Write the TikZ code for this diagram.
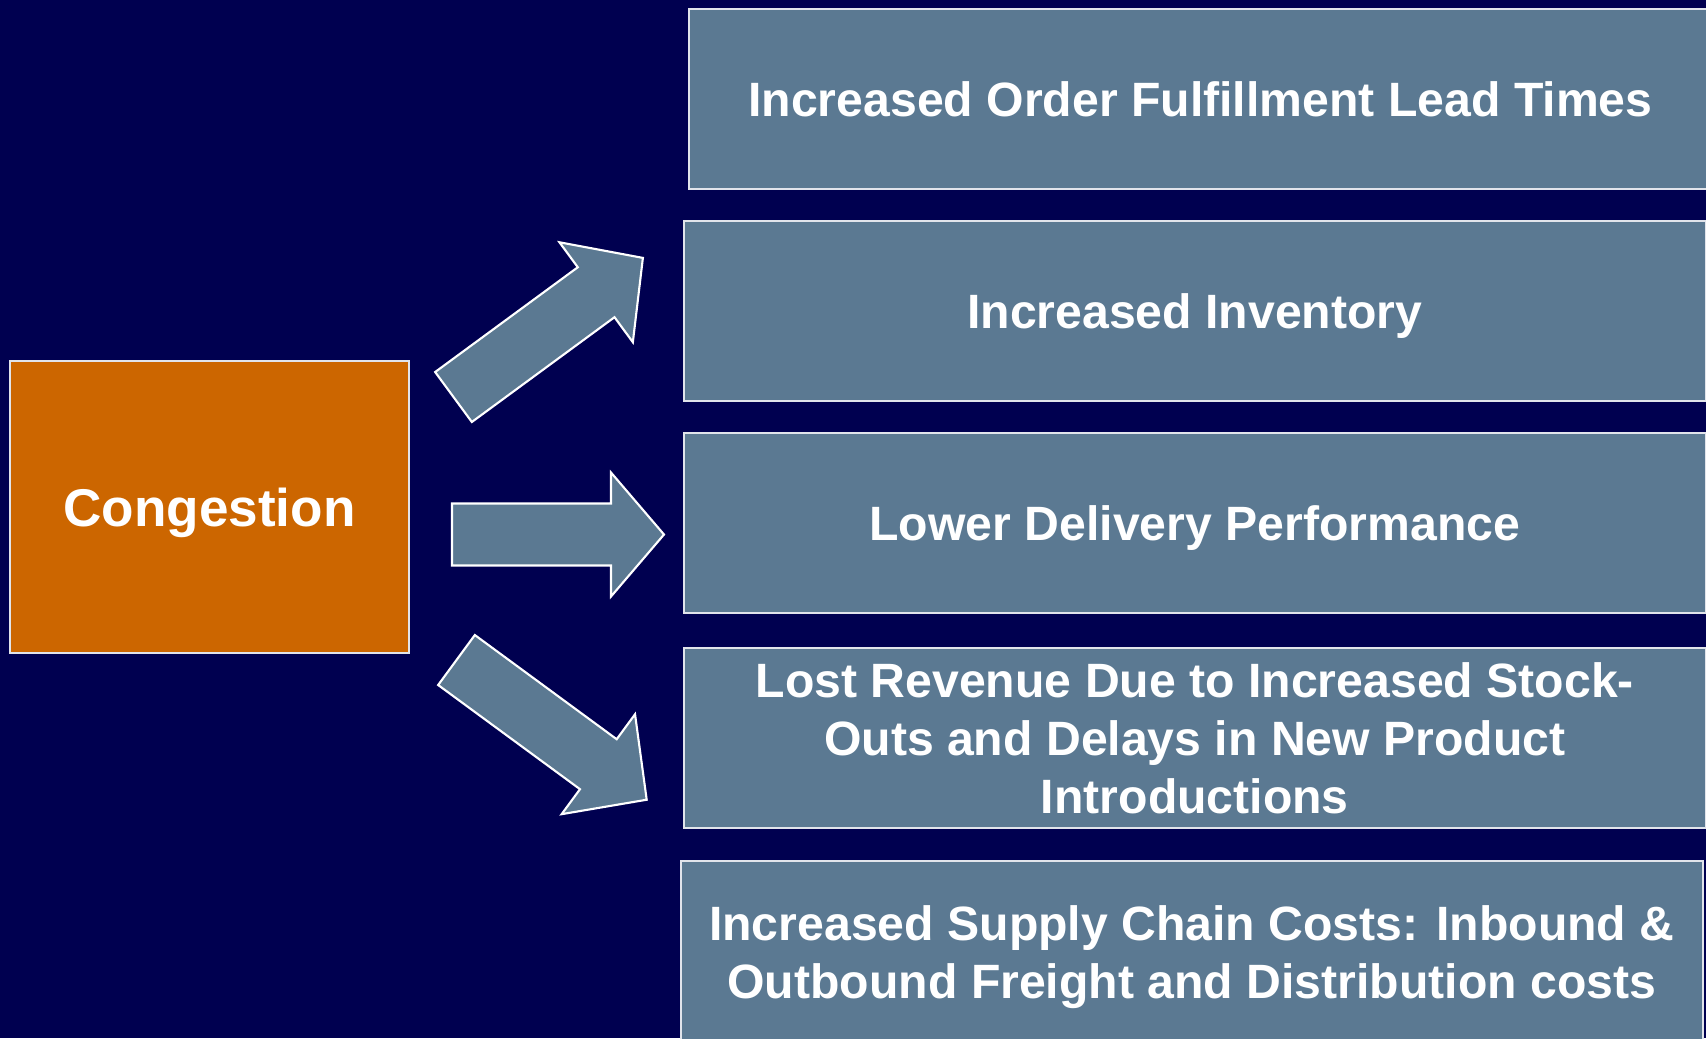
\documentclass[tikz,border=0pt]{standalone}
\usepackage{fontspec}
\setmainfont{Liberation Sans}
\usetikzlibrary{positioning}
\definecolor{slidebg}{RGB}{0,0,80}
\definecolor{effectcolor}{RGB}{91,121,146}
\definecolor{causecolor}{RGB}{204,102,0}
\definecolor{edgecolor}{RGB}{225,228,235}

\begin{document}
\begin{tikzpicture}[
  x=0.01cm, y=-0.01cm,
  every node/.style={align=center, text=white},
  causebox/.style={
    draw=edgecolor, line width=0.6pt, fill=causecolor,
    minimum width=3.99cm, minimum height=2.92cm, inner sep=0pt,
    text depth=0pt, font=\fontsize{15.1}{18}\selectfont\bfseries
  },
  effectbox/.style={
    draw=edgecolor, line width=0.6pt, fill=effectcolor,
    minimum width=10.21cm, minimum height=1.80cm, inner sep=0pt,
    text depth=0pt, anchor=north west,
    font=\fontsize{13.7}{16.4}\selectfont\bfseries
  },
  arrowbody/.style={draw=white, line width=0.6pt, fill=effectcolor},
  % block arrow along +x: #1 = total length, #2 = head length
  pics/blockarrow/.style 2 args={code={
    \draw[arrowbody] (0,-31) -- ({#1-#2},-31) -- ({#1-#2},-62) -- (#1,0)
      -- ({#1-#2},62) -- ({#1-#2},31) -- (0,31) -- cycle;
  }},
]

%% ─── Background ──────────────────────────────────────────────────────────────

\fill[slidebg] (0,0) rectangle (1706,1038);
\useasboundingbox (0,0) rectangle (1706,1038);

%% ─── Cause ───────────────────────────────────────────────────────────────────

\node[causebox] (congestion) at (209.5,507) {Congestion};

%% ─── Effects ─────────────────────────────────────────────────────────────────

\node[effectbox, minimum width=10.22cm] (leadtime)  at (688,8)   {Increased Order Fulfillment Lead Times};
\node[effectbox]                        (inventory) at (683,220) {Increased Inventory};
\node[effectbox]                        (delivery)  at (683,432) {Lower Delivery Performance};
\node[effectbox]                        (revenue)   at (683,647)
  {Lost Revenue Due to Increased Stock-\\Outs and Delays in New Product\\Introductions};
\node[effectbox, minimum height=1.82cm] (costs)     at (680,860)
  {Increased Supply Chain Costs: Inbound \&\\Outbound Freight and Distribution costs};

%% ─── Block arrows ────────────────────────────────────────────────────────────

\pic[rotate=36.3]  (arrup)   at (453.5,397) {blockarrow={235}{58}};
\pic               (arrmid)  at (452,534.5) {blockarrow={212}{53}};
\pic[rotate=-36.3] (arrdown) at (456.5,660) {blockarrow={236}{60}};

\end{tikzpicture}
\end{document}
